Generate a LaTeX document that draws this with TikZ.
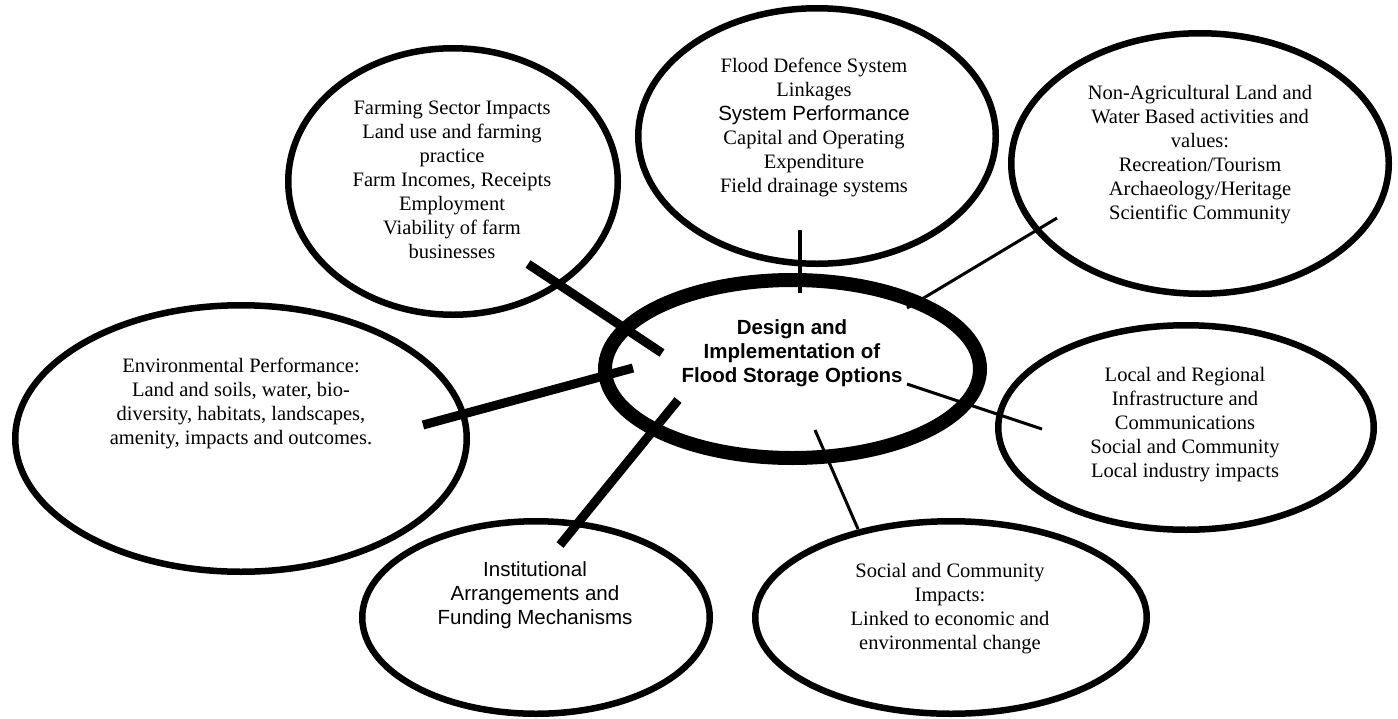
\documentclass[tikz,border=0pt]{standalone}
\usepackage{fontspec}
\setmainfont{Liberation Serif}
\setsansfont{Liberation Sans}
\usetikzlibrary{shapes.geometric}
\begin{document}
\begin{tikzpicture}[x=1pt,y=-1pt,
  bubble/.style={ellipse, draw=black, line width=6.5pt, inner sep=0pt},
  hub/.style={ellipse, draw=black, line width=14pt, inner sep=0pt},
  txt/.style={align=center, font=\fontsize{20.5}{24}\selectfont, inner sep=0pt},
  heavylink/.style={line width=9pt},
  lightlink/.style={line width=3pt},
  midlink/.style={line width=4.5pt}]
\useasboundingbox (0,0) rectangle (1398,718);

% ellipses
\node[hub, minimum width=375pt, minimum height=178pt] (hub) at (792.5,369) {};
\node[bubble, minimum width=329.5pt, minimum height=266.5pt] (farm) at (453,181.5) {};
\node[bubble, minimum width=357.5pt, minimum height=255.5pt] (flood) at (817,136) {};
\node[bubble, minimum width=377.5pt, minimum height=260.5pt] (nonag) at (1200,163.5) {};
\node[bubble, minimum width=451.5pt, minimum height=266.5pt] (env) at (241,438.5) {};
\node[bubble, minimum width=375.5pt, minimum height=204.5pt] (local) at (1186,427.5) {};
\node[bubble, minimum width=347.5pt, minimum height=192.5pt] (inst) at (536,617.5) {};
\node[bubble, minimum width=391.5pt, minimum height=192.5pt] (social) at (951,617.5) {};

% texts
\node[txt, font=\fontsize{20.5}{24}\selectfont\sffamily\bfseries] (hubT) at (792,353)
  {Design and\\Implementation of\\Flood Storage Options};
\node[txt] (farmT) at (452,180)
  {Farming Sector Impacts\\Land use and farming\\practice\\Farm Incomes, Receipts\\Employment\\Viability of farm\\businesses};
\node[txt] (floodT) at (814,127)
  {Flood Defence System\\Linkages\\{\sffamily System Performance}\\Capital and Operating\\Expenditure\\Field drainage systems};
\node[txt] (nonagT) at (1200,155)
  {Non-Agricultural Land and\\Water Based activities and\\values:\\Recreation/Tourism\\Archaeology/Heritage\\Scientific Community};
\node[txt] (envT) at (241,403)
  {Environmental Performance:\\Land and soils, water, bio-\\diversity, habitats, landscapes,\\amenity, impacts and outcomes.};
\node[txt] (localT) at (1185,425)
  {Local and Regional\\Infrastructure and\\Communications\\Social and Community\\Local industry impacts};
\node[txt, font=\fontsize{20.5}{24}\selectfont\sffamily] (instT) at (535,595)
  {Institutional\\Arrangements and\\Funding Mechanisms};
\node[txt] (socialT) at (950,609)
  {Social and Community\\Impacts:\\Linked to economic and\\environmental change};

% connector ends
\coordinate (farmA) at (528,264);  \coordinate (farmB) at (662,353);
\coordinate (envA) at (423,425);   \coordinate (envB) at (633,368);
\coordinate (instA) at (560,545);  \coordinate (instB) at (678,400);
\coordinate (floodA) at (800,230); \coordinate (floodB) at (800,293);
\coordinate (nonagA) at (1057,218);\coordinate (nonagB) at (907,308);
\coordinate (localA) at (1042,429);\coordinate (localB) at (907,384);
\coordinate (socialA) at (858,529);\coordinate (socialB) at (815,430);

\draw[heavylink] (farmA) -- (farmB);
\draw[heavylink] (envA) -- (envB);
\draw[heavylink] (instA) -- (instB);
\draw[midlink] (floodA) -- (floodB);
\draw[lightlink] (nonagA) -- (nonagB);
\draw[lightlink] (localA) -- (localB);
\draw[lightlink] (socialA) -- (socialB);
\end{tikzpicture}
\end{document}
